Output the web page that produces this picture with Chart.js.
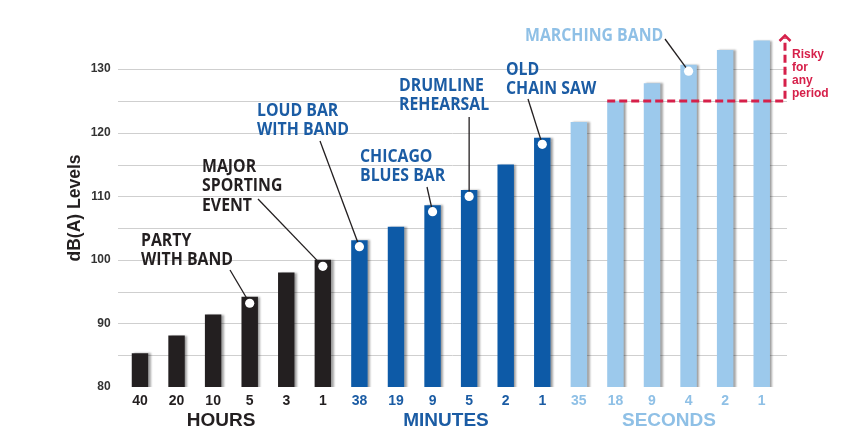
<!DOCTYPE html>
<html>
<head>
<meta charset="utf-8">
<script src="https://cdn.jsdelivr.net/npm/chart.js@4.4.0/dist/chart.umd.min.js"></script>
<style>
  html, body { margin: 0; padding: 0; background: #ffffff; }
  #wrap { width: 848px; height: 438px; position: relative; }
</style>
</head>
<body>
<div id="wrap"><canvas id="c" width="848" height="438"></canvas></div>
<script>
// ---- data ----
const categories = ['40','20','10','5','3','1','38','19','9','5','2','1','35','18','9','4','2','1'];
const groups = ['HOURS','HOURS','HOURS','HOURS','HOURS','HOURS',
                'MINUTES','MINUTES','MINUTES','MINUTES','MINUTES','MINUTES',
                'SECONDS','SECONDS','SECONDS','SECONDS','SECONDS','SECONDS'];
const levels = [85.3, 88.1, 91.4, 94.2, 98, 100, 103.1, 105.2, 108.6, 111, 115, 119.2, 121.7, 125, 127.8, 130.7, 133, 134.5];
const groupNames = ['HOURS','MINUTES','SECONDS'];
const yTickValues = [80, 90, 100, 110, 120, 130];
const riskLevel = 125;
const riskText = ['Risky','for','any','period'];
const yTitle = 'dB(A) Levels';
const annotationIndex = [3, 5, 6, 8, 9, 11, 15];
const annotationLines = [
  ['PARTY','WITH BAND'],
  ['MAJOR','SPORTING','EVENT'],
  ['LOUD BAR','WITH BAND'],
  ['CHICAGO','BLUES BAR'],
  ['DRUMLINE','REHEARSAL'],
  ['OLD','CHAIN SAW'],
  ['MARCHING BAND']
];

// ---- styles / layout ----
const groupColor = { HOURS: '#231f20', MINUTES: '#0d5aa7', SECONDS: '#9cc9ec' };
const groupText  = { HOURS: '#231f20', MINUTES: '#1b5ca4', SECONDS: '#8fc0e6' };
const groupLabelX = { HOURS: 221, MINUTES: 446, SECONDS: 669 };
// text block: left x, first line center y, leader start point (lx null = straight above the bar)
const annoLayout = [
  { x: 141, y: 239.5, lx: 230, ly: 270 },
  { x: 202, y: 166,   lx: 258, ly: 199 },
  { x: 257, y: 110,   lx: 320, ly: 141 },
  { x: 360, y: 156,   lx: 427, ly: 187 },
  { x: 399, y: 85,    lx: null, ly: 117 },
  { x: 506, y: 69,    lx: 528, ly: 99 },
  { x: 525, y: 35,    lx: 665, ly: 39 }
];
const RED = '#d6204a';
const FONT = '"Liberation Sans", Arial, sans-serif';

const barColors = groups.map(g => groupColor[g]);
const tickColors = groups.map(g => groupText[g]);

const decorPlugin = {
  id: 'decor',
  beforeDatasetsDraw(chart) {
    const ctx = chart.ctx;
    const y = chart.scales.y;
    ctx.save();
    ctx.strokeStyle = '#cfcfcf';
    ctx.lineWidth = 1;
    for (let v = 85; v <= 130; v += 5) {
      const py = Math.round(y.getPixelForValue(v)) + 0.5;
      ctx.beginPath();
      ctx.moveTo(118, py);
      ctx.lineTo(787, py);
      ctx.stroke();
    }
    ctx.restore();
    ctx.save();
    ctx.shadowColor = 'rgba(0,0,0,0.35)';
    ctx.shadowOffsetX = 2.5;
    ctx.shadowOffsetY = 0;
    ctx.shadowBlur = 2;
  },
  afterDatasetsDraw(chart) {
    const ctx = chart.ctx;
    ctx.restore();
    const meta = chart.getDatasetMeta(0);
    const y = chart.scales.y;

    // y title
    ctx.save();
    ctx.translate(75, 208);
    ctx.rotate(-Math.PI / 2);
    ctx.fillStyle = '#231f20';
    ctx.font = 'bold 17.5px ' + FONT;
    ctx.textAlign = 'center';
    ctx.textBaseline = 'middle';
    ctx.fillText(yTitle, 0, 0);
    ctx.restore();

    // group labels
    ctx.save();
    ctx.font = 'bold 19px ' + FONT;
    ctx.textAlign = 'center';
    ctx.textBaseline = 'middle';
    groupNames.forEach(g => {
      ctx.fillStyle = groupText[g];
      ctx.fillText(g, groupLabelX[g], 421);
    });
    ctx.restore();

    // annotations
    ctx.save();
    ctx.font = 'bold 18px "Open Sans", ' + FONT;
    const sx = 92 / ctx.measureText('WITH BAND').width;
    annotationIndex.forEach((idx, k) => {
      const bar = meta.data[idx];
      const cx = bar.x, cy = bar.y + 6.5;
      const L = annoLayout[k];
      const lx = L.lx === null ? cx : L.lx;
      ctx.strokeStyle = '#231f20';
      ctx.lineWidth = 1.3;
      ctx.beginPath();
      ctx.moveTo(lx, L.ly);
      ctx.lineTo(cx, cy);
      ctx.stroke();
      ctx.fillStyle = '#ffffff';
      ctx.beginPath();
      ctx.arc(cx, cy, 4.6, 0, Math.PI * 2);
      ctx.fill();
      ctx.fillStyle = groupText[groups[idx]];
      ctx.textAlign = 'left';
      ctx.textBaseline = 'middle';
      annotationLines[k].forEach((line, i) => {
        ctx.save();
        ctx.translate(L.x, L.y + i * 19.3);
        ctx.scale(sx, 1);
        ctx.fillText(line, 0, 1);
        ctx.restore();
      });
    });
    ctx.restore();

    // risk line
    const startBar = meta.data[categories.length - 5];
    const ry = y.getPixelForValue(riskLevel);
    const rx0 = startBar.x - startBar.width / 2;
    const rx1 = 785;
    ctx.save();
    ctx.strokeStyle = RED;
    ctx.lineWidth = 3;
    ctx.setLineDash([8, 4]);
    ctx.beginPath();
    ctx.moveTo(rx0, ry);
    ctx.lineTo(rx1, ry);
    ctx.lineTo(rx1, 38);
    ctx.stroke();
    ctx.setLineDash([]);
    ctx.lineWidth = 2.5;
    ctx.beginPath();
    ctx.moveTo(rx1 - 5.5, 41);
    ctx.lineTo(rx1, 35.5);
    ctx.lineTo(rx1 + 5.5, 41);
    ctx.stroke();
    ctx.fillStyle = RED;
    ctx.font = 'bold 12px ' + FONT;
    ctx.textAlign = 'left';
    ctx.textBaseline = 'middle';
    riskText.forEach((t, i) => ctx.fillText(t, 792, 55 + i * 12.8));
    ctx.restore();
  }
};

new Chart(document.getElementById('c'), {
  type: 'bar',
  data: {
    labels: categories,
    datasets: [{
      data: levels,
      backgroundColor: barColors,
      borderWidth: 0,
      barPercentage: 0.45,
      categoryPercentage: 1.0
    }]
  },
  options: {
    responsive: false,
    animation: false,
    events: [],
    layout: { padding: { top: 31, right: 68, left: 0, bottom: 0 } },
    plugins: { legend: { display: false }, tooltip: { enabled: false } },
    scales: {
      x: {
        grid: { display: false, drawTicks: false },
        border: { display: false },
        ticks: {
          color: ctx => tickColors[ctx.index],
          font: { family: FONT, size: 14, weight: 'bold' },
          padding: 6,
          maxRotation: 0,
          autoSkip: false
        },
        afterFit: s => { s.height = 51; }
      },
      y: {
        min: 80,
        max: 136,
        grid: { display: false, drawTicks: false },
        border: { display: false },
        ticks: {
          color: '#333333',
          font: { family: FONT, size: 12, weight: 'bold' },
          padding: 11
        },
        afterBuildTicks: s => { s.ticks = yTickValues.map(v => ({ value: v })); },
        afterFit: s => { s.width = 121.7; }
      }
    }
  },
  plugins: [decorPlugin]
});
</script>
</body>
</html>
